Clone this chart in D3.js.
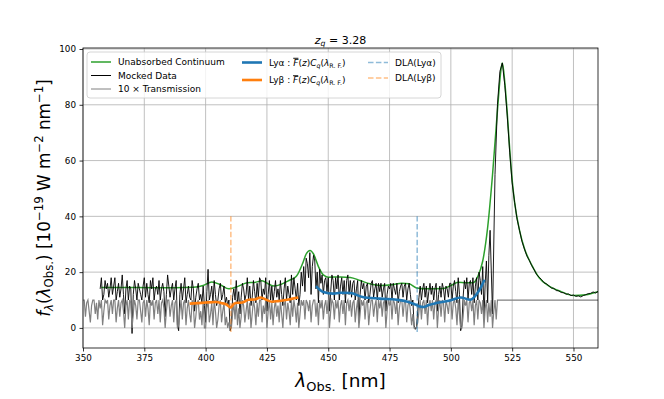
<!DOCTYPE html>
<html>
<head>
<meta charset="utf-8">
<script src="https://cdn.jsdelivr.net/npm/d3@7"></script>
<style>
  body { margin: 0; background: #fff; }
  svg text { font-family: 'DejaVu Sans', sans-serif; white-space: pre; }
</style>
</head>
<body>
<div id="chart"></div>
<script>
/* global d3 */

// Quasar redshift and the DLA lines (nm, observed)
const zq = 3.28
const dlaLya = 486.27
const dlaLyb = 410.29
const dlaSpan = [-1.5, 40]

// 10 x transmission in the forest, 0.5 nm grid from 350 nm
const transStart = 350, transStep = 0.5
const trans10 = [
  10, 10, 4, 9, 10, 6, 2, 8, 10, 10, 5, 9, 3, 10, 7, 10, 1, 6, 10, 9,
  10, 3, 8, 10, 5, 10, 10, 2, 7, 10, 4, 9, 10, 6, 0, 8, 10, 3, 10, 9,
  0, 5, 10, 8, 3, 10, 10, 6, 2, 9, 10, 4, 10, 7, 1, 10, 8, 10, 3, 9,
  10, 5, 10, 2, 9, 10, 7, 0, 6, 10, 10, 4, 8, 10, 2, 9, 10, 0, 1, 6,
  10, 3, 9, 10, 1, 7, 10, 5, 2, 10, 8, 0, 4, 9, 10, 3, 6, 1, 10, 0,
  0, 7, 10, 2, 5, 9, 1, 10, 6, 0, 3, 8, 10, 2, 6, 9, 1, 4, 0, 2,
  0, 0, 5, 9, 3, 10, 1, 7, 0, 4, 10, 8, 2, 6, 10, 3, 9, 0, 5, 10,
  7, 1, 9, 4, 10, 10, 2, 8, 5, 10, 0, 6, 10, 3, 9, 1, 7, 10, 4, 8,
  2, 10, 5, 0, 8, 10, 3, 9, 6, 1, 10, 4, 10, 7, 2, 9, 0, 5, 10, 8,
  10, 3, 10, 9, 6, 10, 2, 8, 10, 10, 4, 9, 1, 10, 7, 10, 3, 8, 10, 5,
  10, 0, 6, 10, 9, 3, 10, 7, 10, 2, 8, 10, 5, 10, 1, 9, 10, 6, 10, 4,
  9, 10, 2, 7, 10, 0, 5, 10, 8, 10, 3, 9, 10, 1, 6, 10, 10, 4, 8, 10,
  2, 10, 7, 10, 4, 9, 10, 0, 6, 10, 8, 10, 3, 10, 9, 5, 10, 1, 7, 10,
  10, 4, 9, 10, 2, 8, 10, 6, 1, 5, 0, 0, 0, 2, 6, 10, 3, 9, 10, 5,
  10, 1, 8, 10, 6, 10, 3, 9, 10, 0, 7, 10, 4, 10, 9, 2, 10, 8, 5, 10,
  10, 3, 9, 10, 7, 1, 10, 5, 0, 0, 4, 10, 8, 10, 2, 9, 10, 6, 10, 1,
  8, 10, 3, 10, 9, 5, 10, 0, 7, 10, 2, 9, 4, 10, 0, 6, 10, 3, 10, 10
]
// redward of the emission line: no absorption, 5 nm grid from 520 nm
const transTailStart = 520, transTailStep = 5
const trans10Tail = [10, 10, 10, 10, 10, 10, 10, 10, 10]

// mocked flux in the forest, 0.5 nm grid from 357 nm
const fluxStart = 357, fluxStep = 0.5
const flux = [
  14, 18, 10, 12, 17, 14,
  16, 11, 14, 18, 12, 15, 18, 10, 13, 16, 11, 14, 19, 12, 5, 14, 17, 10, 15, 14,
  -2, 12, 17, 14, 10, 16, 14, 12, 10, 15, 18, 11, 16, 12, 9, 17, 14, 18, 10, 14,
  15, 12, 17, 10, 14, 16, 13, 4, 12, 19, 15, 11, 14, 16, 10, 14, 17, 1, -1, 12,
  16, 10, 14, 18, 9, 12, 15, 11, 10, 17, 14, 6, 11, 14, 16, 10, 12, 9, 15, 8,
  2, 13, 21, 10, 12, 15, 9, 17, 12, 8, 10, 14, 16, 10, 12, 15, 9, 11, 8, 10,
  -1, 1, 11, 14, 10, 17, 9, 13, 5, 11, 16, 14, 10, 12, 18, 10, 15, 8, 11, 17,
  13, 9, 16, 11, 18, 17, 10, 14, 12, 18, 6, 12, 17, 10, 15, 9, 13, 17, 11, 14,
  10, 17, 12, 8, 14, 18, 10, 15, 12, 9, 19, 12, 18, 14, 10, 16, 8, 12, 20, 15,
  22, 13, 25, 23, 18, 27, 12, 22, 26, 24, 14, 20, 9, 21, 16, 19, 12, 17, 18, 13,
  18, 6, 13, 19, 17, 10, 18, 14, 19, 10, 15, 18, 12, 17, 9, 17, 19, 12, 17, 11,
  16, 17, 10, 14, 17, 2, 12, 17, 14, 16, 10, 15, 16, 9, 12, 16, 17, 11, 14, 16,
  10, 16, 13, 16, 11, 14, 16, 6, 12, 15, 14, 16, 10, 16, 14, 12, 16, 9, 13, 15,
  16, 11, 15, 16, 10, 14, 16, 12, 8, 10, 1, -0.5, 0.5, 6, 11, 15, 10, 14, 16, 11,
  15, 9, 13, 16, 12, 15, 10, 14, 16, 6, 12, 15, 11, 16, 14, 10, 15, 14, 11, 16,
  16, 10, 15, 17, 13, 9, 18, 12, -1, 1, 11, 17, 14, 18, 10, 16, 17, 12, 18, 9,
  15, 18, 10, 20, 17, 12, 22, 4, 16, 24, 9, 26
]
// mocked flux over the Lya emission line, 1 nm grid from 516 nm
const fluxLineStart = 516, fluxLineStep = 1
const fluxLine = [
  35, 5, 55, 80, 92, 95, 87, 76, 63, 52,
  45, 39, 35, 31, 28.3, 25.8, 24.2, 22.3, 20.8, 19.1,
  18.2, 17.3, 16.2, 15.8, 15.1, 14.3, 14.2, 13.4, 13.3, 12.7,
  12.6, 12.1, 12.2, 11.6, 11.8, 11.3, 11.5, 11.1, 11.6, 11.9,
  12.3, 12.4, 12.9, 12.5, 13.1
]

// unabsorbed continuum
const contWl = [357.5, 365, 380, 395, 399, 402.5, 406, 409.5, 413, 417, 420, 423, 425.5, 428, 431, 434, 437,
  439.5, 441, 442.6, 444, 446, 448, 450, 455, 459, 463, 467, 471, 476, 480, 483, 486, 490, 497, 500, 503, 506,
  509, 511, 513, 515, 517, 519, 520.5, 521, 522, 523, 524, 525, 526, 528, 530, 533, 536, 540, 545, 550, 555, 560]
const contFlux = [14.5, 14.5, 14.4, 14.6, 15.2, 16.5, 15.5, 14.0, 14.8, 16.2, 16.3, 16.9, 15.8, 15.0, 15.7, 17.0, 18.5,
  23, 26.5, 27.8, 26.5, 22, 19, 18.2, 18.3, 18.1, 17, 15.8, 15.2, 15.5, 16.0, 15.8, 14.3, 14.0, 14.1, 15.2, 16.4, 16.2,
  16.2, 18.5, 24, 36, 55, 78, 93, 95, 88, 77, 64, 53, 45, 35, 28.5, 22.5, 18, 15, 13, 11.6, 11.9, 13]

// mean transmitted flux x continuum
const lyaWl = [445, 448, 452, 455, 459, 464, 471, 478, 482, 485, 487, 489, 491, 494, 500, 504, 508, 510.7, 512.5, 513.7]
const lyaFlux = [15, 12.9, 12.3, 12.6, 12.5, 11.1, 10.5, 10.1, 9.5, 8.6, 7.8, 7.5, 8.2, 8.9, 9.9, 10.9, 10.1, 12.3, 15, 17.3]
const lybWl = [393.5, 397, 400, 404, 407, 408.5, 410.2, 411.5, 413, 415, 417.5, 420, 422.3, 424.5, 427, 429.5, 432, 434.5, 436.6, 437.8]
const lybFlux = [8.7, 8.9, 9.1, 9.3, 8.8, 8.4, 7.3, 8.6, 9.0, 9.1, 10.1, 10.2, 10.9, 10.2, 9.4, 9.6, 9.9, 10.3, 10.7, 10.9]

const xTicks = [350, 375, 400, 425, 450, 475, 500, 525, 550]
const yTicks = [0, 20, 40, 60, 80, 100]

// Our canvas
const width = 664,
  height = 399,
  pLeft = 83, pRight = 598, pTop = 48, pBottom = 348

const svg = d3.select('#chart')
  .append('svg')
  .attr('width', width)
  .attr('height', height)

const x = d3.scaleLinear().domain([350, 560]).range([pLeft, pRight])
const y = d3.scaleLinear().domain([-7.2, 100.36]).range([pBottom, pTop])

// rich text with italic / sub / sup pieces
const rich = (sel, px, py, parts, size, anchor) => {
  const t = sel.append('text')
    .attr('x', px).attr('y', py)
    .attr('font-size', size)
    .attr('text-anchor', anchor || 'start')
  let cur = 0
  parts.forEach(([s, m = '']) => {
    let off = 0, fs = size
    if (m.includes('b')) { off = size * 0.2; fs = size * 0.7 }
    if (m.includes('p')) { off = -size * 0.4; fs = size * 0.7 }
    const ts = t.append('tspan').attr('dy', off - cur).attr('font-size', fs).text(s)
    if (m.includes('i')) ts.attr('font-style', 'italic')
    if (m.includes('o')) ts.style('text-decoration', 'overline')
    cur = off
  })
  return t
}

// grid
svg.append('g').selectAll('line').data(xTicks).enter().append('line')
  .attr('x1', d => x(d)).attr('x2', d => x(d))
  .attr('y1', pTop).attr('y2', pBottom)
  .attr('stroke', '#b0b0b0').attr('stroke-width', 0.8)
svg.append('g').selectAll('line').data(yTicks).enter().append('line')
  .attr('x1', pLeft).attr('x2', pRight)
  .attr('y1', d => y(d)).attr('y2', d => y(d))
  .attr('stroke', '#b0b0b0').attr('stroke-width', 0.8)

svg.append('clipPath').attr('id', 'clip')
  .append('rect').attr('x', pLeft).attr('y', pTop)
  .attr('width', pRight - pLeft).attr('height', pBottom - pTop)

const plot = svg.append('g').attr('clip-path', 'url(#clip)')

const line = d3.line().x(d => x(d[0])).y(d => y(d[1]))
const smooth = d3.line().x(d => x(d[0])).y(d => y(d[1])).curve(d3.curveMonotoneX)

const contPts = contWl.map((w, i) => [w, contFlux[i]])
const fluxPts = flux.map((v, i) => [fluxStart + i * fluxStep, v])
  .concat(fluxLine.map((v, i) => [fluxLineStart + i * fluxLineStep, v]))
const transPts = trans10.map((v, i) => [transStart + i * transStep, v])
  .concat(trans10Tail.map((v, i) => [transTailStart + i * transTailStep, v]))
const lyaPts = lyaWl.map((w, i) => [w, lyaFlux[i]])
const lybPts = lybWl.map((w, i) => [w, lybFlux[i]])

plot.append('path').attr('d', smooth(contPts))
  .attr('fill', 'none').attr('stroke', '#2ca02c').attr('stroke-width', 1.5)
plot.append('path').attr('d', line(fluxPts))
  .attr('fill', 'none').attr('stroke', '#000').attr('stroke-width', 0.9)
plot.append('path').attr('d', line(transPts))
  .attr('fill', 'none').attr('stroke', '#808080').attr('stroke-width', 1.2)
plot.append('path').attr('d', smooth(lyaPts))
  .attr('fill', 'none').attr('stroke', '#1f77b4').attr('stroke-width', 2.6)
plot.append('path').attr('d', smooth(lybPts))
  .attr('fill', 'none').attr('stroke', '#ff7f0e').attr('stroke-width', 2.6)

const dla = [[dlaLya, '#1f77b4'], [dlaLyb, '#ff7f0e']]
plot.selectAll('.dla').data(dla).enter().append('line')
  .attr('class', 'dla')
  .attr('x1', d => x(d[0])).attr('x2', d => x(d[0]))
  .attr('y1', y(dlaSpan[0])).attr('y2', y(dlaSpan[1]))
  .attr('stroke', d => d[1]).attr('stroke-opacity', 0.5)
  .attr('stroke-width', 1.5).attr('stroke-dasharray', '5.5,2.4')

// axes
svg.append('g')
  .attr('transform', `translate(0, ${pBottom})`)
  .call(d3.axisBottom(x).tickValues(xTicks).tickSize(3.5).tickPadding(3.5))
  .call(g => g.select('.domain').remove())
  .call(g => g.selectAll('text').attr('font-size', 8.8).attr('font-family', 'DejaVu Sans').attr('fill', '#000'))
  .call(g => g.selectAll('line').attr('stroke-width', 0.8))
svg.append('g')
  .attr('transform', `translate(${pLeft}, 0)`)
  .call(d3.axisLeft(y).tickValues(yTicks).tickSize(3.5).tickPadding(3.5))
  .call(g => g.select('.domain').remove())
  .call(g => g.selectAll('text').attr('font-size', 8.8).attr('font-family', 'DejaVu Sans').attr('fill', '#000'))
  .call(g => g.selectAll('line').attr('stroke-width', 0.8))

svg.append('rect')
  .attr('x', pLeft).attr('y', pTop)
  .attr('width', pRight - pLeft).attr('height', pBottom - pTop)
  .attr('fill', 'none').attr('stroke', '#000').attr('stroke-width', 0.8)

// labels
rich(svg, (pLeft + pRight) / 2, 44, [['z', 'i'], ['q', 'ib'], [' = ' + zq.toFixed(2)]], 11, 'middle')
rich(svg, (pLeft + pRight) / 2, 387, [['λ', 'i'], ['Obs.', 'b'], [' [nm]']], 18.5, 'middle')
const ylab = svg.append('g').attr('transform', `translate(50, ${(pTop + pBottom) / 2}) rotate(-90)`)
rich(ylab, 0, 0, [['f', 'i'], ['λ', 'ib'], ['('], ['λ', 'i'], ['Obs.', 'b'], [') [10'], ['−19', 'p'],
  [' W m'], ['−2', 'p'], [' nm'], ['−1', 'p'], [']']], 16.8, 'middle')

// legend
const leg = svg.append('g')
leg.append('rect')
  .attr('x', 87).attr('y', 52).attr('width', 354).attr('height', 46).attr('rx', 3)
  .attr('fill', '#fff').attr('fill-opacity', 0.8)
  .attr('stroke', '#cccccc').attr('stroke-width', 0.8)

const fbar = [['Ly'], ['α'], [' : '], ['F', 'io'], ['('], ['z', 'i'], [')'], ['C', 'i'], ['q', 'ib'], ['('], ['λ', 'i'], ['R. F.', 'b'], [')']]
const items = [
  { x: 91, y: 62, color: '#2ca02c', w: 1.5, parts: [['Unabsorbed Continuum']] },
  { x: 91, y: 75.5, color: '#000', w: 1, parts: [['Mocked Data']] },
  { x: 91, y: 89, color: '#808080', w: 1, parts: [['10 × Transmission']] },
  { x: 242, y: 62.5, color: '#1f77b4', w: 2.6, parts: fbar },
  { x: 242, y: 80, color: '#ff7f0e', w: 2.6, parts: fbar.map((p, i) => i === 1 ? ['β'] : p) },
  { x: 368, y: 62.5, color: '#1f77b4', w: 1.5, dash: true, parts: [['DLA(Lyα)']] },
  { x: 368, y: 78, color: '#ff7f0e', w: 1.5, dash: true, parts: [['DLA(Lyβ)']] }
]
items.forEach(it => {
  leg.append('line')
    .attr('x1', it.x).attr('x2', it.x + 20)
    .attr('y1', it.y).attr('y2', it.y)
    .attr('stroke', it.color).attr('stroke-width', it.w)
    .attr('stroke-opacity', it.dash ? 0.5 : 1)
    .attr('stroke-dasharray', it.dash ? '5.5,2.4' : null)
  rich(leg, it.x + 27, it.y + 3.3, it.parts, 9)
})
</script>
</body>
</html>
